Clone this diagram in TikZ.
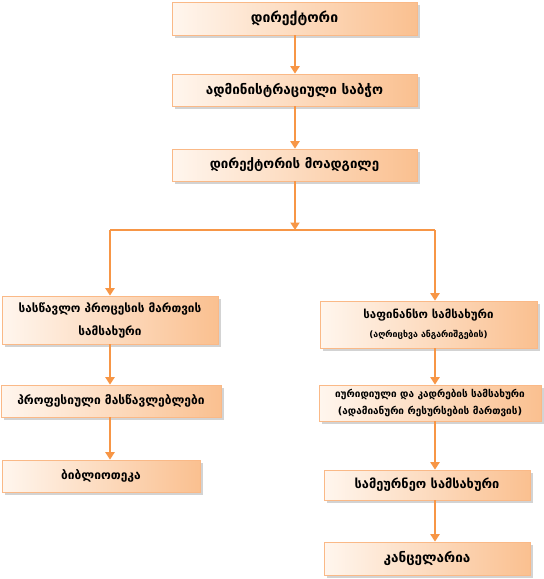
\documentclass[tikz,border=0pt]{standalone}
\usepackage{fontspec}
\newfontfamily\geo{DejaVu Sans}
\usetikzlibrary{arrows.meta,shadows}
\definecolor{acc}{RGB}{247,150,70}
\definecolor{boxl}{RGB}{255,246,238}
\definecolor{boxr}{RGB}{250,192,144}
\definecolor{boxline}{RGB}{250,185,135}
\begin{document}
\begin{tikzpicture}[x=1pt,y=-1pt,
  box/.style={draw=boxline, line width=0.6pt, left color=boxl, right color=boxr,
    drop shadow={shadow xshift=2.5pt, shadow yshift=-2.5pt, opacity=0.35, fill=gray},
    font=\geo\bfseries, align=center, inner sep=2pt},
  arr/.style={draw=acc, line width=2.5pt, -{Triangle[width=9pt,length=7.5pt]}},
  ln/.style={draw=acc, line width=2.5pt}]
\useasboundingbox (0,0) rectangle (544,579);
\node[box, minimum width=245pt, minimum height=33pt, font=\geo\bfseries\fontsize{14}{16}\selectfont] (b1) at (294.5,18.5) {დირექტორი};
\node[box, minimum width=245pt, minimum height=32pt, font=\geo\bfseries\fontsize{13.5}{15}\selectfont] (b2) at (294.5,90) {ადმინისტრაციული საბჭო};
\node[box, minimum width=245pt, minimum height=32pt, font=\geo\bfseries\fontsize{13.3}{15}\selectfont] (b3) at (294.5,165) {დირექტორის მოადგილე};
\node[box, minimum width=216pt, minimum height=48pt, font=\geo\bfseries\fontsize{11.8}{23}\selectfont] (b4) at (110,320) {სასწავლო პროცესის მართვის\\სამსახური};
\node[box, minimum width=220pt, minimum height=32pt, font=\geo\bfseries\fontsize{12}{14}\selectfont] (b5) at (111,401) {პროფესიული მასწავლებლები};
\node[box, minimum width=198pt, minimum height=32pt, font=\geo\bfseries\fontsize{12}{14}\selectfont] (b6) at (101,476) {ბიბლიოთეკა};
\node[box, minimum width=217pt, minimum height=47pt, font=\geo\bfseries\fontsize{11.5}{13}\selectfont] (b7) at (428.5,324.5) {საფინანსო სამსახური\\[6pt]{\fontsize{8.8}{10}\selectfont (აღრიცხვა ანგარიშგების)}};
\node[box, minimum width=222pt, minimum height=36pt, font=\geo\bfseries\fontsize{10}{17}\selectfont] (b8) at (430,403) {იურიდიული და კადრების სამსახური\\(ადამიანური რესურსების მართვის)};
\node[box, minimum width=206pt, minimum height=30pt, font=\geo\bfseries\fontsize{12.8}{14}\selectfont] (b9) at (427,485) {სამეურნეო სამსახური};
\node[box, minimum width=206pt, minimum height=33pt, font=\geo\bfseries\fontsize{13.5}{15}\selectfont] (b10) at (427,558.5) {კანცელარია};
\coordinate (mid) at (295,0);
\coordinate (colL) at (110,0);
\coordinate (colR) at (435,0);
\coordinate (jM) at (295,230);
\coordinate (jL) at (110,230);
\coordinate (jR) at (435,230);
\draw[arr] (b1.south -| mid) -- (b2.north -| mid);
\draw[arr] (b2.south -| mid) -- (b3.north -| mid);
\draw[arr] (b3.south -| mid) -- (jM);
\draw[ln] (jL) -- (jR);
\draw[arr] (jL) -- (b4.north -| colL);
\draw[arr] (jR) -- (b7.north -| colR);
\draw[arr] (b4.south -| colL) -- (b5.north -| colL);
\draw[arr] (b5.south -| colL) -- (b6.north -| colL);
\draw[arr] (b7.south -| colR) -- (b8.north -| colR);
\draw[arr] (b8.south -| colR) -- (b9.north -| colR);
\draw[arr] (b9.south -| colR) -- (b10.north -| colR);
\end{tikzpicture}
\end{document}
